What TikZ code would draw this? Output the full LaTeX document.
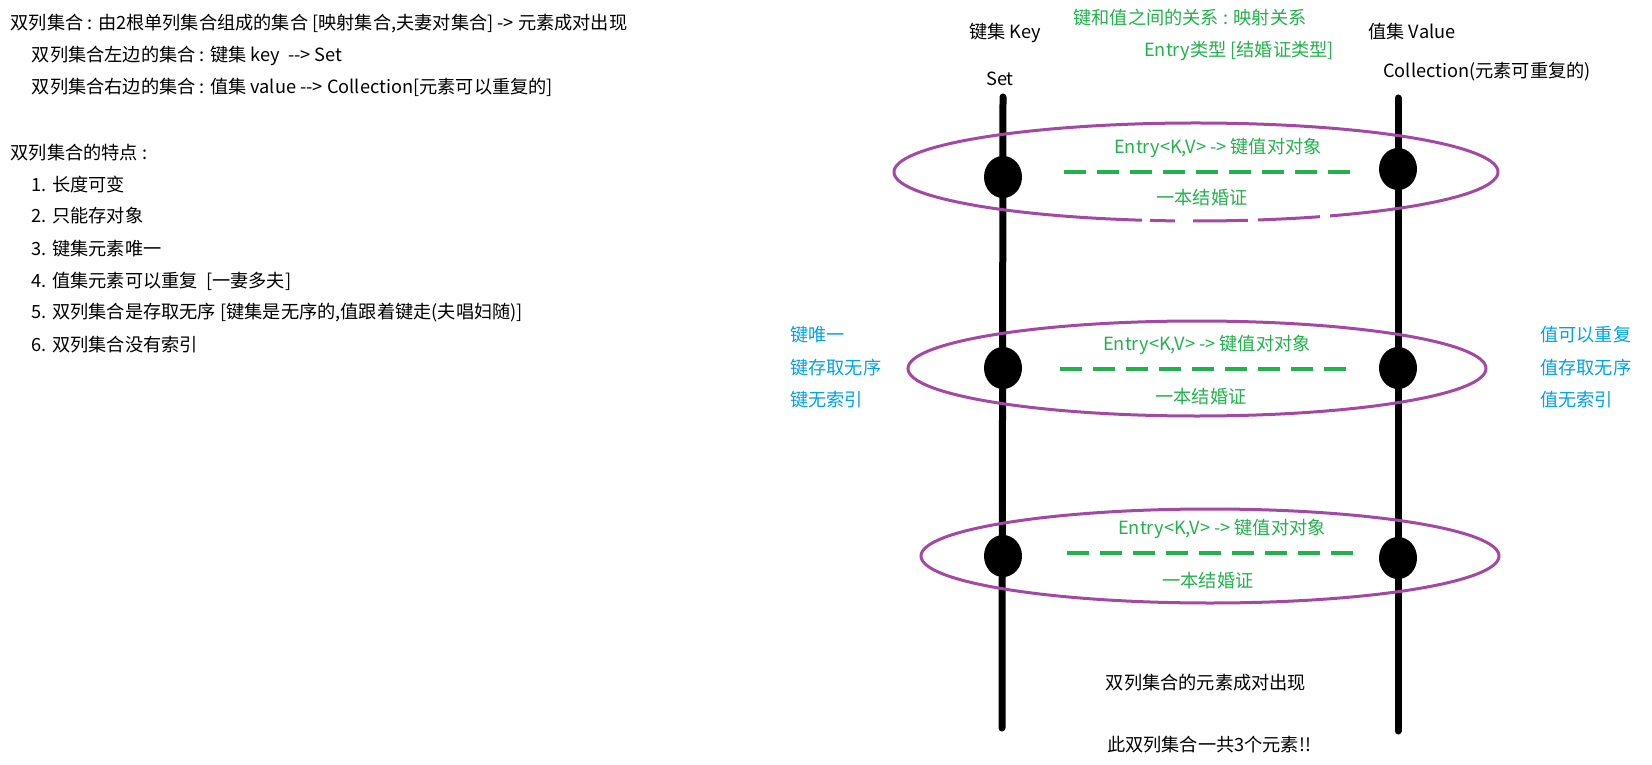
\documentclass[tikz,border=0pt]{standalone}
\usepackage{fontspec}
\setmainfont{Noto Sans CJK SC}
\usetikzlibrary{shapes.geometric}
\definecolor{pgreen}{RGB}{34,177,76}
\definecolor{pblue}{RGB}{0,162,232}
\definecolor{ppurple}{RGB}{163,73,164}
\begin{document}
\begin{tikzpicture}[x=1pt,y=-1pt,
  txt/.style={inner sep=0pt, font=\fontsize{18.2}{22}\selectfont},
  lt/.style={txt, anchor=west},
  gtxt/.style={txt, text=pgreen},
  btxt/.style={lt, text=pblue},
  keyline/.style={line width=7pt, line cap=round},
  dotnode/.style={ellipse, fill=black, minimum width=38pt, minimum height=42pt, inner sep=0pt},
  pair/.style={draw=ppurple, line width=3pt},
  link/.style={draw=pgreen, line width=3.5pt, dash pattern=on 22pt off 11pt}]
\useasboundingbox (0,0) rectangle (1652,765);

% left text block
\node[lt] (l1) at (10.5,24) {双列集合 : 由2根单列集合组成的集合 [映射集合,夫妻对集合] -> 元素成对出现};
\node[lt] (l2) at (31.6,56) {双列集合左边的集合 : 键集 key\ \ {-}{-}> Set};
\node[lt] (l3) at (31.6,87) {双列集合右边的集合 : 值集 value {-}{-}> Collection[元素可以重复的]};
\node[lt] (f0) at (10.5,153) {双列集合的特点 :};
\node[lt] (f1) at (31.6,184.4) {1. 长度可变};
\node[lt] (f2) at (31.6,216) {2. 只能存对象};
\node[lt] (f3) at (31.6,248.6) {3. 键集元素唯一};
\node[lt] (f4) at (31.6,281.3) {4. 值集元素可以重复\ \ [一妻多夫]};
\node[lt] (f5) at (31.6,312.9) {5. 双列集合是存取无序 [键集是无序的,值跟着键走(夫唱妇随)]};
\node[lt] (f6) at (31.6,344.5) {6. 双列集合没有索引};

% top labels
\node[txt] (keyt) at (1005,33) {键集 Key};
\node[txt] (sett) at (1000,79) {Set};
\node[txt] (valt) at (1412,32) {值集 Value};
\node[txt] (colt) at (1487,72) {Collection(元素可重复的)};
\node[gtxt] (rel) at (1190,18) {键和值之间的关系 : 映射关系};
\node[gtxt] (ety) at (1239,50.5) {Entry类型 [结婚证类型]};

% vertical lines
\coordinate (ktop) at (1003,97);
\coordinate (kbot) at (1002,728);
\coordinate (vtop) at (1398,98);
\coordinate (vbot) at (1398,731);
\draw[keyline] (ktop) -- (kbot);
\draw[keyline] (vtop) -- (vbot);

% ellipse 1 (with small gaps at the bottom)
\draw[pair] ([shift={(100.3:302 and 49)}]1196,172) arc[start angle=100.3, end angle=423.66, x radius=302, y radius=49];
\draw[pair] ([shift={(65.76:302 and 49)}]1196,172) arc[start angle=65.76, end angle=78.15, x radius=302, y radius=49];
\draw[pair] ([shift={(80.09:302 and 49)}]1196,172) arc[start angle=80.09, end angle=90.57, x radius=302, y radius=49];
\draw[pair] ([shift={(93.99:302 and 49)}]1196,172) arc[start angle=93.99, end angle=98.76, x radius=302, y radius=49];
% ellipse 2, 3
\draw[pair] (1197,368.5) ellipse [x radius=289, y radius=47.5];
\draw[pair] (1210,556) ellipse [x radius=289, y radius=47];

% dots
\node[dotnode] (k1) at (1003,177) {};
\node[dotnode] (v1) at (1398,169) {};
\node[dotnode] (k2) at (1003,368) {};
\node[dotnode] (v2) at (1398,368) {};
\node[dotnode] (k3) at (1003,556) {};
\node[dotnode] (v3) at (1398,558) {};

% pair 1
\node[gtxt] (e1) at (1218,147.5) {Entry<K,V> -> 键值对对象};
\coordinate (d1a) at (1064,172);
\coordinate (d1b) at (1352,172);
\draw[link] (d1a) -- (d1b);
\node[gtxt] (m1) at (1202,198) {一本结婚证};
% pair 2
\node[gtxt] (e2) at (1207,344.5) {Entry<K,V> -> 键值对对象};
\coordinate (d2a) at (1060,369);
\coordinate (d2b) at (1349,369);
\draw[link] (d2a) -- (d2b);
\node[gtxt] (m2) at (1201,397) {一本结婚证};
% pair 3
\node[gtxt] (e3) at (1222,529) {Entry<K,V> -> 键值对对象};
\coordinate (d3a) at (1067,553);
\coordinate (d3b) at (1356,553);
\draw[link] (d3a) -- (d3b);
\node[gtxt] (m3) at (1208,580.5) {一本结婚证};

% blue side labels
\node[btxt] (kb1) at (790,335) {键唯一};
\node[btxt] (kb2) at (790,368) {键存取无序};
\node[btxt] (kb3) at (790,400) {键无索引};
\node[btxt] (vb1) at (1540,335) {值可以重复};
\node[btxt] (vb2) at (1540,368) {值存取无序};
\node[btxt] (vb3) at (1540,400) {值无索引};

% bottom notes
\node[txt] (n1) at (1206,683) {双列集合的元素成对出现};
\node[txt] (n2) at (1209,745) {此双列集合一共3个元素!!};
\end{tikzpicture}
\end{document}
